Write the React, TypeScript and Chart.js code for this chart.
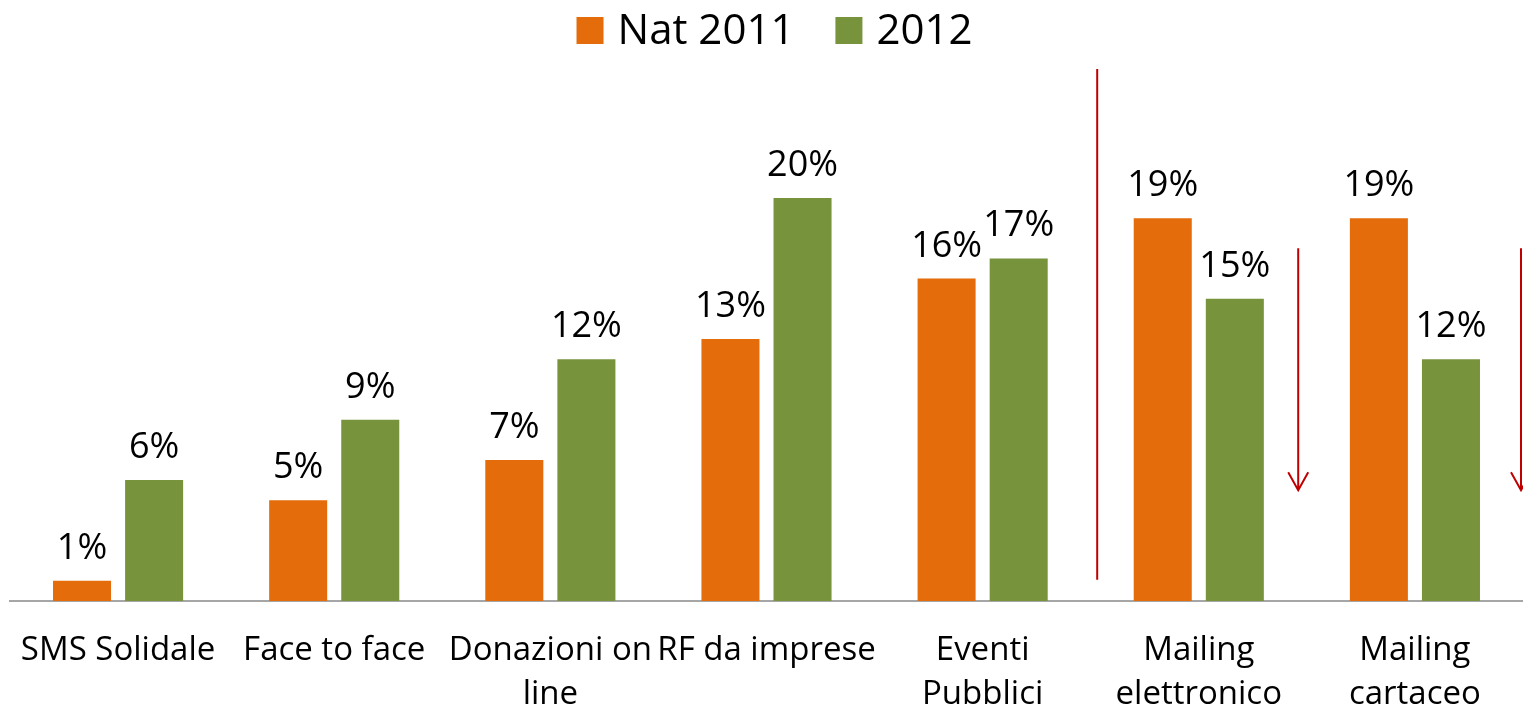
import React, { useEffect, useRef } from "react";
import { Chart, registerables } from "chart.js";

Chart.register(...registerables);

const categories: string[][] = [
  ["SMS Solidale"],
  ["Face to face"],
  ["Donazioni on", "line"],
  ["RF da imprese"],
  ["Eventi", "Pubblici"],
  ["Mailing", "elettronico"],
  ["Mailing", "cartaceo"],
];
const seriesNames = ["Nat 2011", "2012"];
const nat2011 = [1, 5, 7, 13, 16, 19, 19];
const y2012 = [6, 9, 12, 20, 17, 15, 12];
const seriesColors = ["#E46C0A", "#77933C"];

// annotation positions in data units (category index, percent)
const dividerX = 4.53;
const dividerYTop = 26.4;
const dividerYBottom = 1.05;
const arrowXs = [5.46, 6.5];
const arrowYTop = 17.5;
const arrowYBottom = 5.5;

const FONT = "'Open Sans', sans-serif";

const annotationPlugin = {
  id: "annotations",
  afterDatasetsDraw(chart: any) {
    const { ctx, scales } = chart;
    const xs = scales.x;
    const ys = scales.y;
    ctx.save();
    // legend
    ctx.font = `42px ${FONT}`;
    ctx.textBaseline = "alphabetic";
    ctx.textAlign = "left";
    const box = 27;
    const gap = 14;
    const spacing = 41;
    const widths = seriesNames.map((n) => box + gap + ctx.measureText(n).width);
    const total = widths.reduce((a, b) => a + b, 0) + spacing * (widths.length - 1);
    let lx = chart.width / 2 + 13 - total / 2;
    seriesNames.forEach((n, i) => {
      ctx.fillStyle = seriesColors[i];
      ctx.fillRect(lx, 17, box, box);
      ctx.fillStyle = "#000";
      ctx.fillText(n, lx + box + gap, 44);
      lx += widths[i] + spacing;
    });
    // data labels
    ctx.font = `36px ${FONT}`;
    ctx.fillStyle = "#000";
    ctx.textAlign = "center";
    ctx.textBaseline = "alphabetic";
    chart.data.datasets.forEach((ds: any, di: number) => {
      const meta = chart.getDatasetMeta(di);
      meta.data.forEach((bar: any, i: number) => {
        ctx.fillText(`${ds.data[i]}%`, bar.x, bar.y - 22);
      });
    });
    // divider line
    ctx.strokeStyle = "#C00000";
    ctx.lineWidth = 2;
    const dx = xs.getPixelForValue(dividerX);
    ctx.beginPath();
    ctx.moveTo(dx, ys.getPixelForValue(dividerYTop));
    ctx.lineTo(dx, ys.getPixelForValue(dividerYBottom));
    ctx.stroke();
    // arrows
    arrowXs.forEach((ax) => {
      const x = Math.min(xs.getPixelForValue(ax), chart.width - 2);
      const y0 = ys.getPixelForValue(arrowYTop);
      const y1 = ys.getPixelForValue(arrowYBottom);
      ctx.beginPath();
      ctx.moveTo(x, y0);
      ctx.lineTo(x, y1);
      ctx.moveTo(x - 10, y1 - 18);
      ctx.lineTo(x, y1);
      ctx.lineTo(x + 10, y1 - 18);
      ctx.stroke();
    });
    ctx.restore();
  },
};

export default function App() {
  const ref = useRef<HTMLCanvasElement>(null);
  useEffect(() => {
    if (!ref.current) return;
    const chart = new Chart(ref.current, {
      type: "bar",
      data: {
        labels: categories,
        datasets: [
          {
            label: seriesNames[0],
            data: nat2011,
            backgroundColor: seriesColors[0],
            borderWidth: 0,
            categoryPercentage: 0.667,
            barPercentage: 0.805,
          },
          {
            label: seriesNames[1],
            data: y2012,
            backgroundColor: seriesColors[1],
            borderWidth: 0,
            categoryPercentage: 0.667,
            barPercentage: 0.805,
          },
        ],
      },
      options: {
        animation: false,
        responsive: false,
        maintainAspectRatio: false,
        layout: { padding: { left: 10, right: 0, top: 67, bottom: 0 } },
        plugins: {
          legend: { display: false },
          tooltip: { enabled: false },
          title: { display: false },
        },
        scales: {
          x: {
            grid: { display: false, drawTicks: false },
            border: { display: true, color: "#A6A6A6", width: 2 },
            ticks: {
              color: "#000",
              font: { family: FONT, size: 33, lineHeight: 1.33 },
              padding: 28,
              maxRotation: 0,
              autoSkip: false,
            },
            afterFit: (scale: any) => {
              scale.height = 110;
              scale.paddingLeft = 0;
              scale.paddingRight = 0;
            },
          },
          y: {
            display: false,
            min: 0,
            max: 26.5,
          },
        },
      },
      plugins: [annotationPlugin],
    });
    return () => chart.destroy();
  }, []);
  return (
    <div style={{ position: "fixed", left: 0, top: 0, width: 1523, height: 711, background: "#fff" }}>
      <canvas ref={ref} width={1523} height={711} style={{ width: 1523, height: 711 }} />
    </div>
  );
}
